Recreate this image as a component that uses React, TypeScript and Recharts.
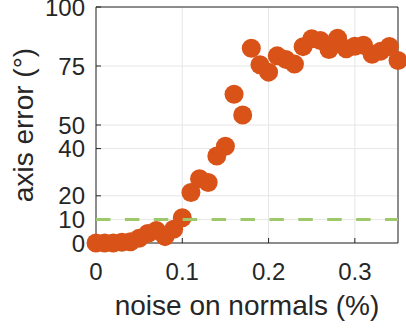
import React from "react";
import { ScatterChart, Scatter, XAxis, YAxis, CartesianGrid, Label } from "recharts";

// noise level on normals (%) and resulting axis error (deg)
const noise = [
  0, 0.01, 0.02, 0.03, 0.04, 0.05, 0.06, 0.07, 0.08, 0.09, 0.1, 0.11,
  0.12, 0.13, 0.14, 0.15, 0.16, 0.17, 0.18, 0.19, 0.2, 0.21, 0.22, 0.23,
  0.24, 0.25, 0.26, 0.27, 0.28, 0.29, 0.3, 0.31, 0.32, 0.33, 0.34, 0.35,
];
const axisError = [
  0, 0, 0, 0.3, 0.5, 2, 4, 5.3, 2.7, 5.8, 10.7, 21.4,
  27.2, 25.6, 36.9, 41, 63, 54.2, 82.5, 75.5, 72.4, 79.3, 77.8, 75.8,
  83.2, 86.5, 85.8, 82, 86.8, 82.3, 83.4, 83.8, 80, 81.3, 83.3, 77.3,
];
const threshold = 10;

const xTicks = [0, 0.1, 0.2, 0.3];
const yTicks = [0, 10, 20, 40, 50, 75, 100];
const xDomain: [number, number] = [0, 0.35];
const yDomain: [number, number] = [0, 100];

const points = noise.map((x, i) => ({ x, y: axisError[i] }));
const thresholdLine = [
  { x: xDomain[0], y: threshold },
  { x: xDomain[1], y: threshold },
];

const FONT = "'Liberation Sans', Arial, Helvetica, sans-serif";
const AXIS = "#262626";
const ORANGE = "#D95319";
const GREEN = "#9DC96A";

const tickStyle = { fill: AXIS, fontSize: 24, fontFamily: FONT };

export default function App() {
  return (
    <div style={{ position: "absolute", left: 0, top: 0, width: 406, height: 330, background: "#fff" }}>
      <ScatterChart width={406} height={330} margin={{ top: 0, right: 0, bottom: 0, left: 0 }}>
        <CartesianGrid stroke="#e6e6e6" strokeWidth={1} />
        <XAxis
          dataKey="x"
          type="number"
          domain={xDomain}
          ticks={xTicks}
          interval={0}
          height={87}
          stroke={AXIS}
          tickSize={-5}
          tickMargin={25}
          tick={tickStyle}
          tickFormatter={(v: any) => String(v)}
        >
          <Label
            value="noise on normals (%)"
            position="insideBottom"
            offset={15}
            style={{ fill: AXIS, fontSize: 28, fontFamily: FONT }}
          />
        </XAxis>
        <YAxis
          dataKey="y"
          type="number"
          domain={yDomain}
          ticks={yTicks}
          interval={0}
          width={96}
          stroke={AXIS}
          tickSize={-5}
          tickMargin={16}
          tick={tickStyle}
        >
          <Label
            value="axis error (°)"
            angle={-90}
            position="insideLeft"
            offset={23}
            style={{ fill: AXIS, fontSize: 28, fontFamily: FONT, textAnchor: "middle" }}
          />
        </YAxis>
        <XAxis
          xAxisId="top"
          orientation="top"
          type="number"
          domain={xDomain}
          ticks={xTicks}
          interval={0}
          height={7}
          stroke={AXIS}
          tickSize={-5}
          tick={false}
        />
        <YAxis
          yAxisId="right"
          orientation="right"
          type="number"
          domain={yDomain}
          ticks={yTicks}
          interval={0}
          width={8}
          stroke={AXIS}
          tickSize={-5}
          tick={false}
        />
        <Scatter
          data={points}
          fill={ORANGE}
          isAnimationActive={false}
          shape={(p: any) => <circle cx={p.cx} cy={p.cy} r={9.5} fill={ORANGE} />}
        />
        <Scatter
          data={thresholdLine}
          isAnimationActive={false}
          line={{ stroke: GREEN, strokeWidth: 3, strokeDasharray: "14.5 14.4" }}
          lineType="joint"
          shape={() => <g />}
        />
      </ScatterChart>
    </div>
  );
}
